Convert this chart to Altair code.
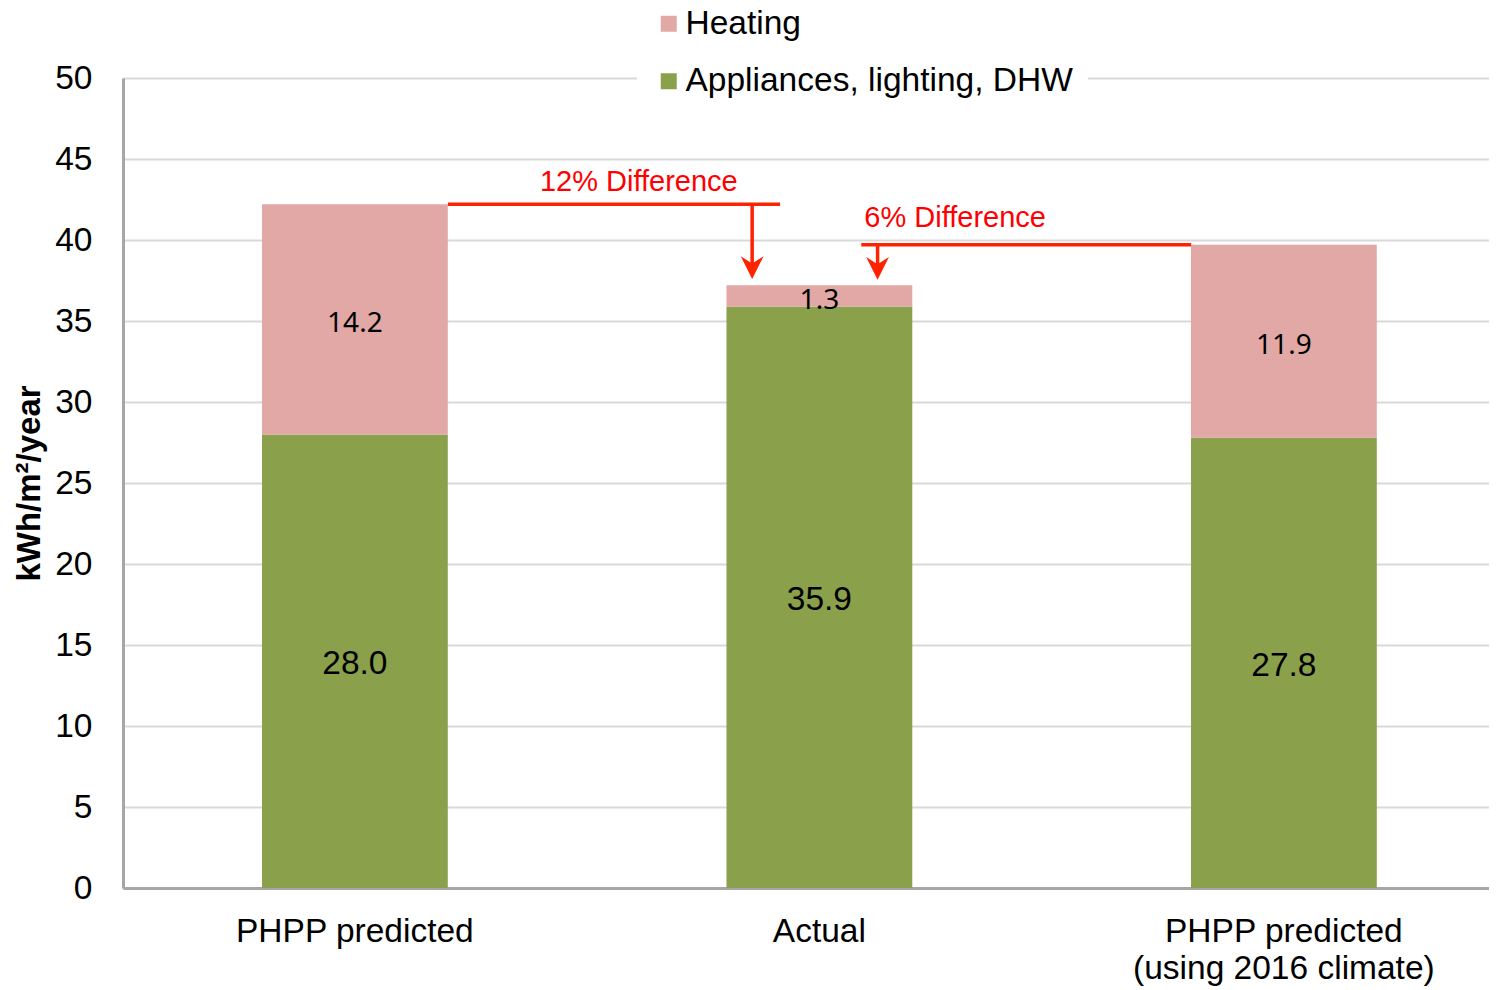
import altair as alt
import pandas as pd

# ---------------- data ----------------
categories = ["PHPP predicted", "Actual", "PHPP predicted|(using 2016 climate)"]
appliances = [28.0, 35.9, 27.8]
heating = [14.2, 1.3, 11.9]
series_names = ["Heating", "Appliances, lighting, DHW"]
series_colors = ["#E1A8A6", "#8AA04B"]

# annotation (category-index units on x, kWh/m2/year on y)
ann_text = ["12% Difference", "6% Difference"]
ann_text_x = [0.611, 1.292]
ann_text_y = [43.6, 41.35]
ann_hline_x = [0.2, 1.09]
ann_hline_x2 = [0.915, 1.8]
ann_hline_y = [42.2, 39.7]
ann_arrow_x = [0.855, 1.125]
ann_arrow_tip = [37.6, 37.55]

rows = []
for c, a, h in zip(categories, appliances, heating):
    rows.append({"cat": c, "series": "Appliances, lighting, DHW", "value": a, "ord": 0})
    rows.append({"cat": c, "series": "Heating", "value": h, "ord": 1})
df = pd.DataFrame(rows)

ann_df = pd.DataFrame({
    "text": ann_text, "tx": ann_text_x, "ty": ann_text_y,
    "hx": ann_hline_x, "hx2": ann_hline_x2, "hy": ann_hline_y,
    "ax": ann_arrow_x, "tip": ann_arrow_tip,
})

FONT = "Liberation Sans"
FS = 33.5
W, H = 1366, 810

xband = alt.X(
    "cat:N", sort=categories, title=None,
    scale=alt.Scale(paddingInner=0.6, paddingOuter=0.2704, align=0.5533),
    axis=alt.Axis(labelAngle=0, labelFontSize=FS, labelFont=FONT, labelColor="black",
                  labelPadding=27, ticks=False, domainColor="#A6A6A6", domainWidth=3,
                  labelLineHeight=37, labelExpr="split(datum.label, '|')", grid=False,
                  labelLimit=0),
)
yq = alt.Scale(domain=[0, 50], nice=False)

bars = alt.Chart(df).mark_bar().encode(
    x=xband,
    y=alt.Y("value:Q", stack="zero", scale=yq, title="kWh/m²/year",
            axis=alt.Axis(values=list(range(0, 51, 5)), labelFontSize=FS, labelFont=FONT,
                          labelColor="black", labelPadding=31, ticks=False,
                          domainColor="#A6A6A6", domainWidth=3, gridColor="#D9D9D9",
                          gridWidth=2, titleFontSize=33, titleFont=FONT,
                          titleFontWeight="bold", titleColor="black", titlePadding=8)),
    color=alt.Color("series:N", scale=alt.Scale(domain=series_names, range=series_colors),
                    legend=alt.Legend(title=None, orient="none", legendX=514, legendY=-86,
                                      labelFontSize=FS, labelFont=FONT, labelColor="black",
                                      symbolType="square", symbolSize=256, symbolStrokeWidth=0,
                                      labelOffset=0, rowPadding=22.5, padding=15,
                                      fillColor="white", symbolOpacity=1, labelLimit=0)),
    order=alt.Order("ord:Q"),
)

stacked = alt.Chart(df).transform_stack(
    stack="value", groupby=["cat"], as_=["v0", "v1"], sort=[alt.SortField("ord")]
).transform_calculate(mid="(datum.v0 + datum.v1) / 2")

green_lbl = stacked.transform_filter(alt.datum.series == "Appliances, lighting, DHW").mark_text(
    fontSize=FS, font=FONT, color="black", dy=3
).encode(x=xband, y=alt.Y("mid:Q", scale=yq), text=alt.Text("value:Q", format=".1f"))

pink_lbl = stacked.transform_filter(alt.datum.series == "Heating").mark_text(
    fontSize=28, font="Noto Sans", color="black", dy=5
).encode(x=xband, y=alt.Y("mid:Q", scale=yq), text=alt.Text("value:Q", format=".1f"))

main = alt.layer(bars, green_lbl, pink_lbl)

xq = alt.Scale(domain=[-0.49946, 2.44133], nice=False, zero=False)
ann = alt.Chart(ann_df)
hlines = ann.mark_rule(color="#FF2200", strokeWidth=3.5).encode(
    x=alt.X("hx:Q", scale=xq, axis=None), x2="hx2:Q", y=alt.Y("hy:Q", scale=yq))
vlines = ann.transform_calculate(vend="datum.tip + 0.6").mark_rule(
    color="#FF2200", strokeWidth=3.5).encode(
    x=alt.X("ax:Q", scale=xq, axis=None), y=alt.Y("hy:Q", scale=yq), y2="vend:Q")
heads = ann.transform_calculate(hy2="datum.tip + 0.7").mark_point(
    shape="M-1,-1L0,1L1,-1L0,-0.35Z", size=520, filled=True, color="#FF2200", opacity=1,
    strokeWidth=0).encode(x=alt.X("ax:Q", scale=xq, axis=None), y=alt.Y("hy2:Q", scale=yq))
texts = ann.mark_text(fontSize=29, font=FONT, color="#FF0000").encode(
    x=alt.X("tx:Q", scale=xq, axis=None), y=alt.Y("ty:Q", scale=yq), text="text:N")
annot = alt.layer(hlines, vlines, heads, texts)

chart = alt.layer(main, annot).resolve_scale(x="independent").properties(
    width=W, height=H,
    autosize=alt.AutoSizeParams(type="none"),
    padding={"left": 115, "top": 70, "right": 0, "bottom": 98},
).configure_view(stroke=None).configure(background="white")

chart.save("out.html", embed_options={"renderer": "svg", "actions": False})
